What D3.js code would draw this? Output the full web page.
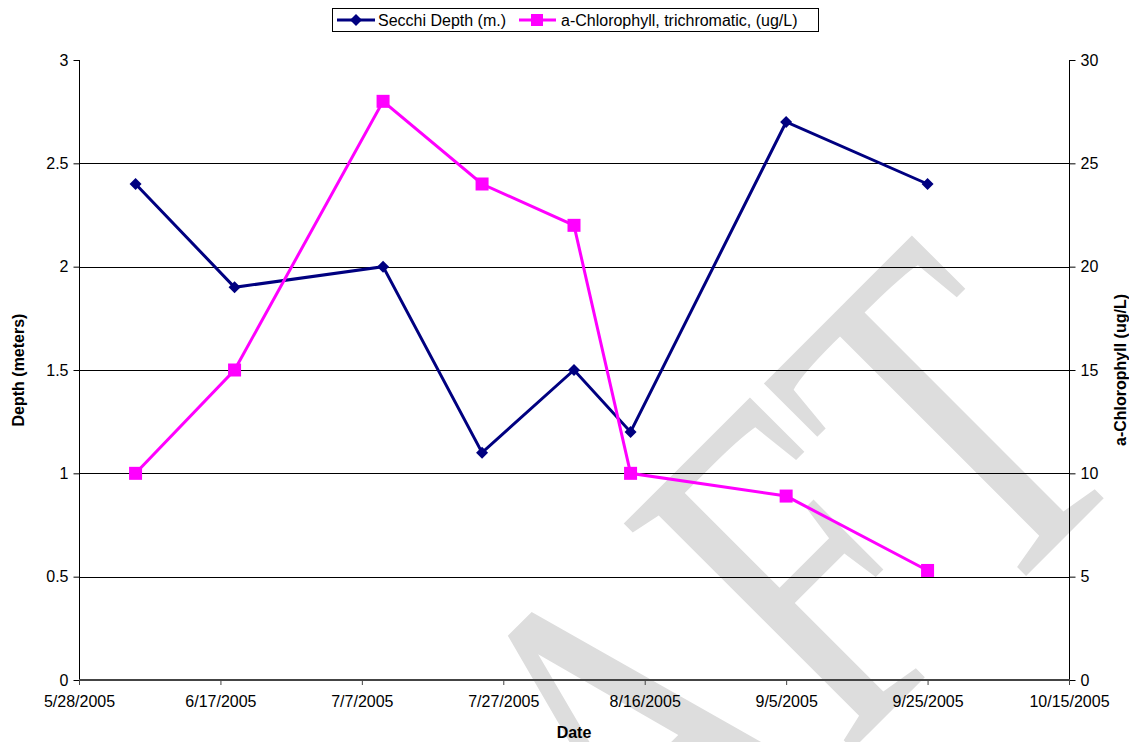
<!DOCTYPE html>
<html>
<head>
<meta charset="utf-8">
<script src="https://cdn.jsdelivr.net/npm/d3@7"></script>
<style>
  html, body { margin: 0; padding: 0; background: #fff; }
  svg { display: block; font-family: "Liberation Sans", Arial, sans-serif; }
</style>
</head>
<body>
<svg id="chart" width="1129" height="742"></svg>
<script>
// Sampling dates and measurements
const sampleDates = ["2005-06-05", "2005-06-19", "2005-07-10", "2005-07-24", "2005-08-06", "2005-08-14", "2005-09-05", "2005-09-25"];
const secchiDepth = [2.4, 1.9, 2.0, 1.1, 1.5, 1.2, 2.7, 2.4];
const chlorophyll = [10, 15, 28, 24, 22, 10, 8.9, 5.3];

// Axis ticks
const dateTicks = ["2005-05-28", "2005-06-17", "2005-07-07", "2005-07-27", "2005-08-16", "2005-09-05", "2005-09-25", "2005-10-15"];
const depthTicks = [0, 0.5, 1, 1.5, 2, 2.5, 3];
const chlTicks = [0, 5, 10, 15, 20, 25, 30];

const seriesNames = ["Secchi Depth (m.)", "a-Chlorophyll, trichromatic, (ug/L)"];

const parse = d3.utcParse("%Y-%m-%d");
const fmt = d3.utcFormat("%-m/%-d/%Y");

const svg = d3.select("#chart");
const plot = { left: 79, right: 1069, top: 60, bottom: 680 };
const FS = 16;

const x = d3.scaleUtc()
  .domain([parse(dateTicks[0]), parse(dateTicks[dateTicks.length - 1])])
  .range([plot.left, plot.right]);
const yL = d3.scaleLinear().domain([0, 3]).range([plot.bottom, plot.top]);
const yR = d3.scaleLinear().domain([0, 30]).range([plot.bottom, plot.top]);

// Background watermark (rotated, condensed serif text)
svg.append("text")
  .attr("transform", "translate(1143.5,458.5) rotate(-45) scale(0.74,1)")
  .attr("text-anchor", "end")
  .attr("font-family", "Liberation Serif, Times New Roman, serif")
  .attr("font-size", 491)
  .attr("fill", "#dddddd")
  .text("DRAFT");

// Horizontal gridlines
svg.append("g")
  .selectAll("line")
  .data(depthTicks.filter(d => d > 0 && d < 3))
  .join("line")
  .attr("x1", plot.left).attr("x2", plot.right)
  .attr("y1", d => Math.round(yL(d)) + 0.5)
  .attr("y2", d => Math.round(yL(d)) + 0.5)
  .attr("stroke", "#000")
  .attr("stroke-width", 1);

// Axes
const axisFont = g => g.selectAll("text")
  .attr("font-family", "Liberation Sans, Arial, sans-serif")
  .attr("font-size", FS)
  .attr("fill", "#000");

const gL = svg.append("g")
  .attr("transform", `translate(${plot.left + 0.5},0)`)
  .call(d3.axisLeft(yL).tickValues(depthTicks).tickSize(6).tickPadding(5)
    .tickFormat(d3.format("~g")))
  .call(axisFont);

const gR = svg.append("g")
  .attr("transform", `translate(${plot.right + 0.5},0)`)
  .call(d3.axisRight(yR).tickValues(chlTicks).tickSize(6).tickPadding(5))
  .call(axisFont);

const gB = svg.append("g")
  .attr("transform", `translate(0,${plot.bottom})`)
  .call(d3.axisBottom(x).tickValues(dateTicks.map(parse)).tickSize(5).tickPadding(11)
    .tickFormat(fmt))
  .call(axisFont);
gB.selectAll(".tick line").attr("stroke", "#444");
[gL, gR, gB].forEach(g => g.select(".domain").remove());

// Axis lines without end caps
svg.append("line").attr("x1", plot.left + 0.5).attr("x2", plot.left + 0.5)
  .attr("y1", plot.top).attr("y2", plot.bottom).attr("stroke", "#000");
svg.append("line").attr("x1", plot.right + 0.5).attr("x2", plot.right + 0.5)
  .attr("y1", plot.top).attr("y2", plot.bottom).attr("stroke", "#000");
svg.append("line").attr("x1", plot.left).attr("x2", plot.right + 1)
  .attr("y1", plot.bottom).attr("y2", plot.bottom).attr("stroke", "#444").attr("stroke-width", 2);

// Axis titles
svg.append("text")
  .attr("transform", `translate(24,${(plot.top + plot.bottom) / 2}) rotate(-90)`)
  .attr("text-anchor", "middle")
  .attr("font-size", FS).attr("font-weight", "bold")
  .text("Depth (meters)");
svg.append("text")
  .attr("transform", `translate(1126,${(plot.top + plot.bottom) / 2}) rotate(-90)`)
  .attr("text-anchor", "middle")
  .attr("font-size", FS).attr("font-weight", "bold")
  .text("a-Chlorophyll (ug/L)");
svg.append("text")
  .attr("x", 574).attr("y", 738)
  .attr("text-anchor", "middle")
  .attr("font-size", FS).attr("font-weight", "bold")
  .text("Date");

// Series
const navy = "#000080", magenta = "#ff00ff";
const secchiData = sampleDates.map((d, i) => ({ date: parse(d), v: secchiDepth[i] }));
const chlData = sampleDates.map((d, i) => ({ date: parse(d), v: chlorophyll[i] }));

svg.append("path")
  .datum(secchiData)
  .attr("fill", "none").attr("stroke", navy).attr("stroke-width", 3)
  .attr("d", d3.line().x(d => x(d.date)).y(d => yL(d.v)));
svg.append("path")
  .datum(chlData)
  .attr("fill", "none").attr("stroke", magenta).attr("stroke-width", 3)
  .attr("d", d3.line().x(d => x(d.date)).y(d => yR(d.v)));

const diamond = d3.symbol().type(d3.symbolSquare).size(72);
svg.append("g").selectAll("path")
  .data(secchiData).join("path")
  .attr("transform", d => `translate(${x(d.date)},${yL(d.v)}) rotate(45)`)
  .attr("d", diamond).attr("fill", navy);

const sq = 13;
svg.append("g").selectAll("rect")
  .data(chlData).join("rect")
  .attr("x", d => x(d.date) - sq / 2).attr("y", d => yR(d.v) - sq / 2)
  .attr("width", sq).attr("height", sq)
  .attr("fill", magenta);

// Legend
const lg = svg.append("g");
lg.append("rect")
  .attr("x", 332.5).attr("y", 8.5).attr("width", 486).attr("height", 23)
  .attr("fill", "#fff").attr("stroke", "#000");
lg.append("line").attr("x1", 337).attr("x2", 375).attr("y1", 20).attr("y2", 20)
  .attr("stroke", navy).attr("stroke-width", 3);
lg.append("path").attr("transform", "translate(356,20) rotate(45)").attr("d", diamond).attr("fill", navy);
lg.append("text").attr("x", 378).attr("y", 26).attr("font-size", FS).text(seriesNames[0]);
lg.append("line").attr("x1", 519).attr("x2", 556).attr("y1", 20).attr("y2", 20)
  .attr("stroke", magenta).attr("stroke-width", 3);
lg.append("rect").attr("x", 531).attr("y", 14).attr("width", 12).attr("height", 12).attr("fill", magenta);
lg.append("text").attr("x", 561).attr("y", 26).attr("font-size", FS).text(seriesNames[1]);
</script>
</body>
</html>
